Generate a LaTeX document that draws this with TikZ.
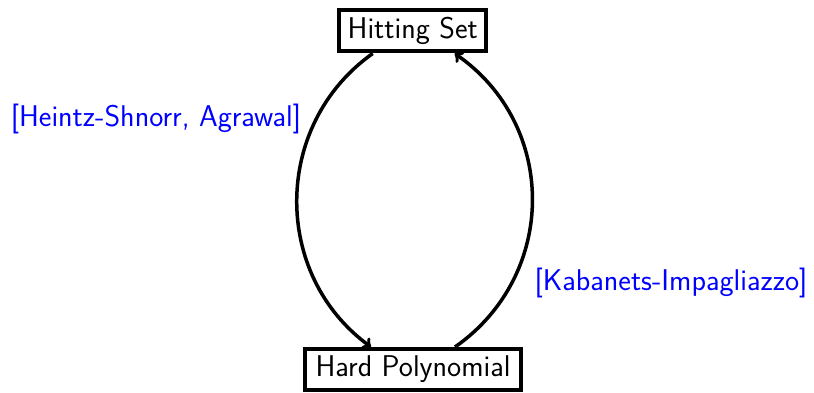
\documentclass[tikz,border=0pt]{standalone}
\usetikzlibrary{calc}
\begin{document}
\begin{tikzpicture}[x=1pt,y=1pt,
  every node/.style={font=\sffamily\fontsize{30}{36}\selectfont},
  boxnode/.style={draw=black,line width=4pt,inner sep=0pt},
  lbl/.style={text=blue,inner sep=0pt},
  arc/.style={line width=3.5pt,-to}]
\useasboundingbox (0,0) rectangle (814,-393);
\node[boxnode,minimum width=147pt,minimum height=41pt] (hs) at (412.7,-31) {Hitting Set};
\node[boxnode,minimum width=216pt,minimum height=41pt] (hp) at (413,-369.5) {Hard Polynomial};
\coordinate (l1) at ($(hs.south)+(-40,0)$);
\coordinate (l2) at ($(hp.north)+(-42,0)$);
\coordinate (r1) at ($(hp.north)+(42,0)$);
\coordinate (r2) at ($(hs.south)+(42,0)$);
\draw[arc] (l1) .. controls (272,-125) and (272,-275) .. (l2);
\draw[arc] (r1) .. controls (558,-275) and (558,-125) .. (r2);
\node[lbl] (hsa) at (156,-119) {[Heintz-Shnorr, Agrawal]};
\node[lbl] (ki) at (671,-283) {[Kabanets-Impagliazzo]};
\end{tikzpicture}
\end{document}
